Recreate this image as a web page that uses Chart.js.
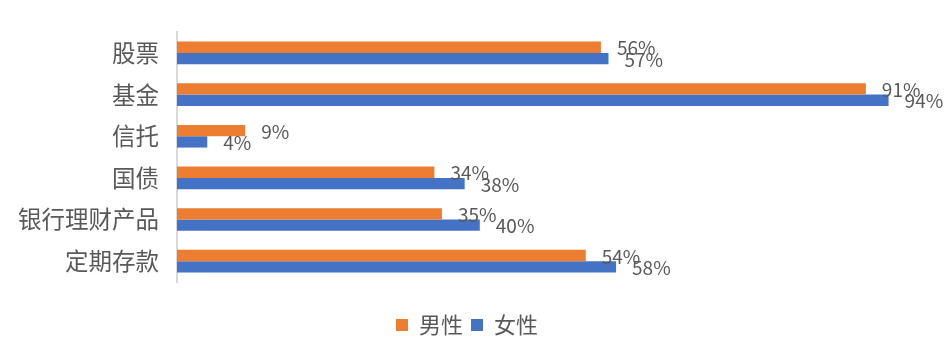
<!DOCTYPE html>
<html>
<head>
<meta charset="utf-8">
<script src="https://cdn.jsdelivr.net/npm/chart.js@4.4.1/dist/chart.umd.min.js"></script>
<style>
  html, body { margin: 0; padding: 0; background: #fff; }
  #wrap { width: 947px; height: 354px; }
</style>
</head>
<body>
<div id="wrap"><canvas id="chart_one"></canvas></div>
<script>
var categories = ["股票", "基金", "信托", "国债", "银行理财产品", "定期存款"];
var maleValues = [56, 91, 9, 34, 35, 54];
var femaleValues = [57, 94, 4, 38, 40, 58];
var seriesNames = ["男性", "女性"];

// value labels just right of each bar end
var barLabels = {
  id: "barLabels",
  afterDatasetsDraw: function (chart) {
    let ctx = chart.ctx;
    ctx.save();
    ctx.font = "19px 'Noto Sans CJK SC'";
    ctx.fillStyle = "#595959";
    ctx.textAlign = "left";
    ctx.textBaseline = "middle";
    chart.data.datasets.forEach(function (ds, i) {
      let meta = chart.getDatasetMeta(i);
      meta.data.forEach(function (bar, j) {
        ctx.fillText(ds.data[j] + "%", bar.x + 16, bar.y + 1);
      });
    });
    ctx.restore();
  },
};

generateChart();

function generateChart() {
  let barGraph = document.getElementById("chart_one").getContext("2d");
  let chart = new Chart(barGraph, {
    type: "bar",
    data: {
      labels: categories,
      datasets: [
        {
          label: seriesNames[0],
          data: maleValues,
          backgroundColor: "#ED7D31",
        },
        {
          label: seriesNames[1],
          data: femaleValues,
          backgroundColor: "#4472C4",
        },
      ],
    },
    options: {
      indexAxis: "y",
      responsive: true,
      maintainAspectRatio: false,
      animation: false,
      datasets: {
        bar: { categoryPercentage: 0.545, barPercentage: 1.0 },
      },
      layout: {
        padding: { top: 32, right: 13, left: 0, bottom: 8 },
      },
      scales: {
        x: {
          min: 0,
          max: 100,
          grid: { display: false, drawTicks: false },
          border: { display: false },
          ticks: { display: false },
          title: {
            display: true,
            text: "",
            padding: 0,
            font: { size: 24, lineHeight: 1 },
          },
        },
        y: {
          grid: { display: false, drawTicks: false },
          border: { display: true, color: "#d9d9d9", width: 2 },
          ticks: {
            color: "#595959",
            padding: 18,
            font: { family: "'Noto Sans CJK SC'", size: 23.5 },
          },
        },
      },
      plugins: {
        tooltip: { enabled: false },
        legend: {
          position: "bottom",
          labels: {
            boxWidth: 12,
            boxHeight: 12,
            padding: 8,
            color: "#595959",
            font: { family: "'Noto Sans CJK SC'", size: 22, lineHeight: 1 },
          },
        },
      },
    },
    plugins: [barLabels],
  });
}
</script>
</body>
</html>
